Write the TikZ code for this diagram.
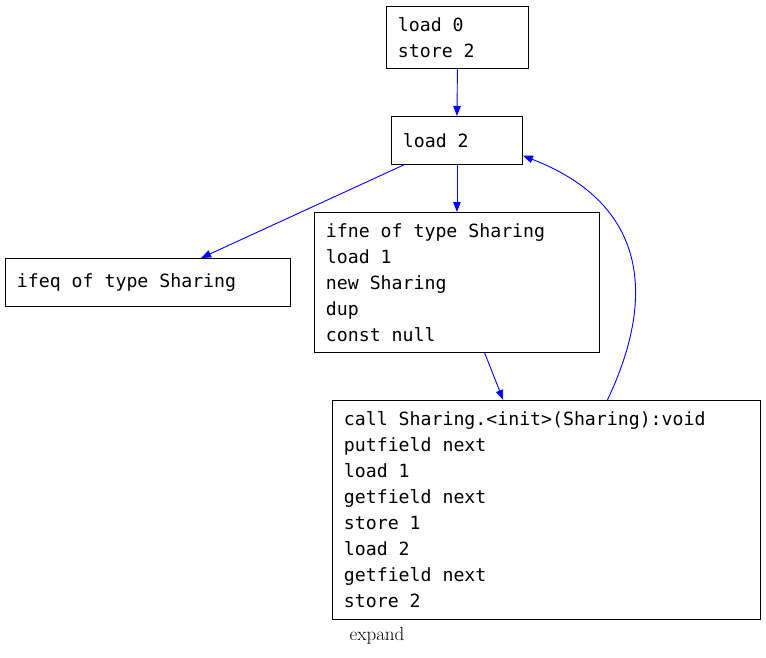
\documentclass[tikz,border=0pt]{standalone}
\usepackage{fontspec}
\newfontfamily\codefont{DejaVu Sans Mono}
\newcommand\codestyle{\codefont\fontsize{18.2}{26}\selectfont}
\usetikzlibrary{arrows.meta}
\begin{document}
\begin{tikzpicture}[x=1pt,y=-1pt,
  box/.style={draw, line width=0.9pt, rectangle, anchor=north west, inner xsep=11.5pt, inner ysep=0pt,
    align=flush left, font=\codestyle},
  edge/.style={draw=blue, line width=0.9pt, -{Triangle[length=10pt,width=7.5pt]}, fill=none}]
\useasboundingbox (0,0) rectangle (766,658);
\node[box, text width=119pt, minimum height=62pt] (A) at (386,6) {load 0\\store 2};
\node[box, text width=108pt, minimum height=48pt] (B) at (391,116) {load 2};
\node[box, text width=262pt, minimum height=48pt] (C) at (5,258) {ifeq of type Sharing};
\node[box, text width=262pt, minimum height=140pt] (D) at (314,212) {ifne of type Sharing\\load 1\\new Sharing\\dup\\const null};
\node[box, text width=405pt, minimum height=219pt] (E) at (332,400) {call Sharing.<init>(Sharing):void\\putfield next\\load 1\\getfield next\\store 1\\load 2\\getfield next\\store 2};
\node[font=\fontsize{19}{21}\selectfont, inner sep=0pt] (lbl) at (377,636) {expand};
\draw[edge] (A.south) -- (B.north);
\draw[edge] (B) -- (C);
\draw[edge] (B.south) -- (D.north);
\draw[edge] (D) -- (E);
\draw[edge] (E.61) .. controls (655,300) and (650,205) .. (B.-13);
\end{tikzpicture}
\end{document}
